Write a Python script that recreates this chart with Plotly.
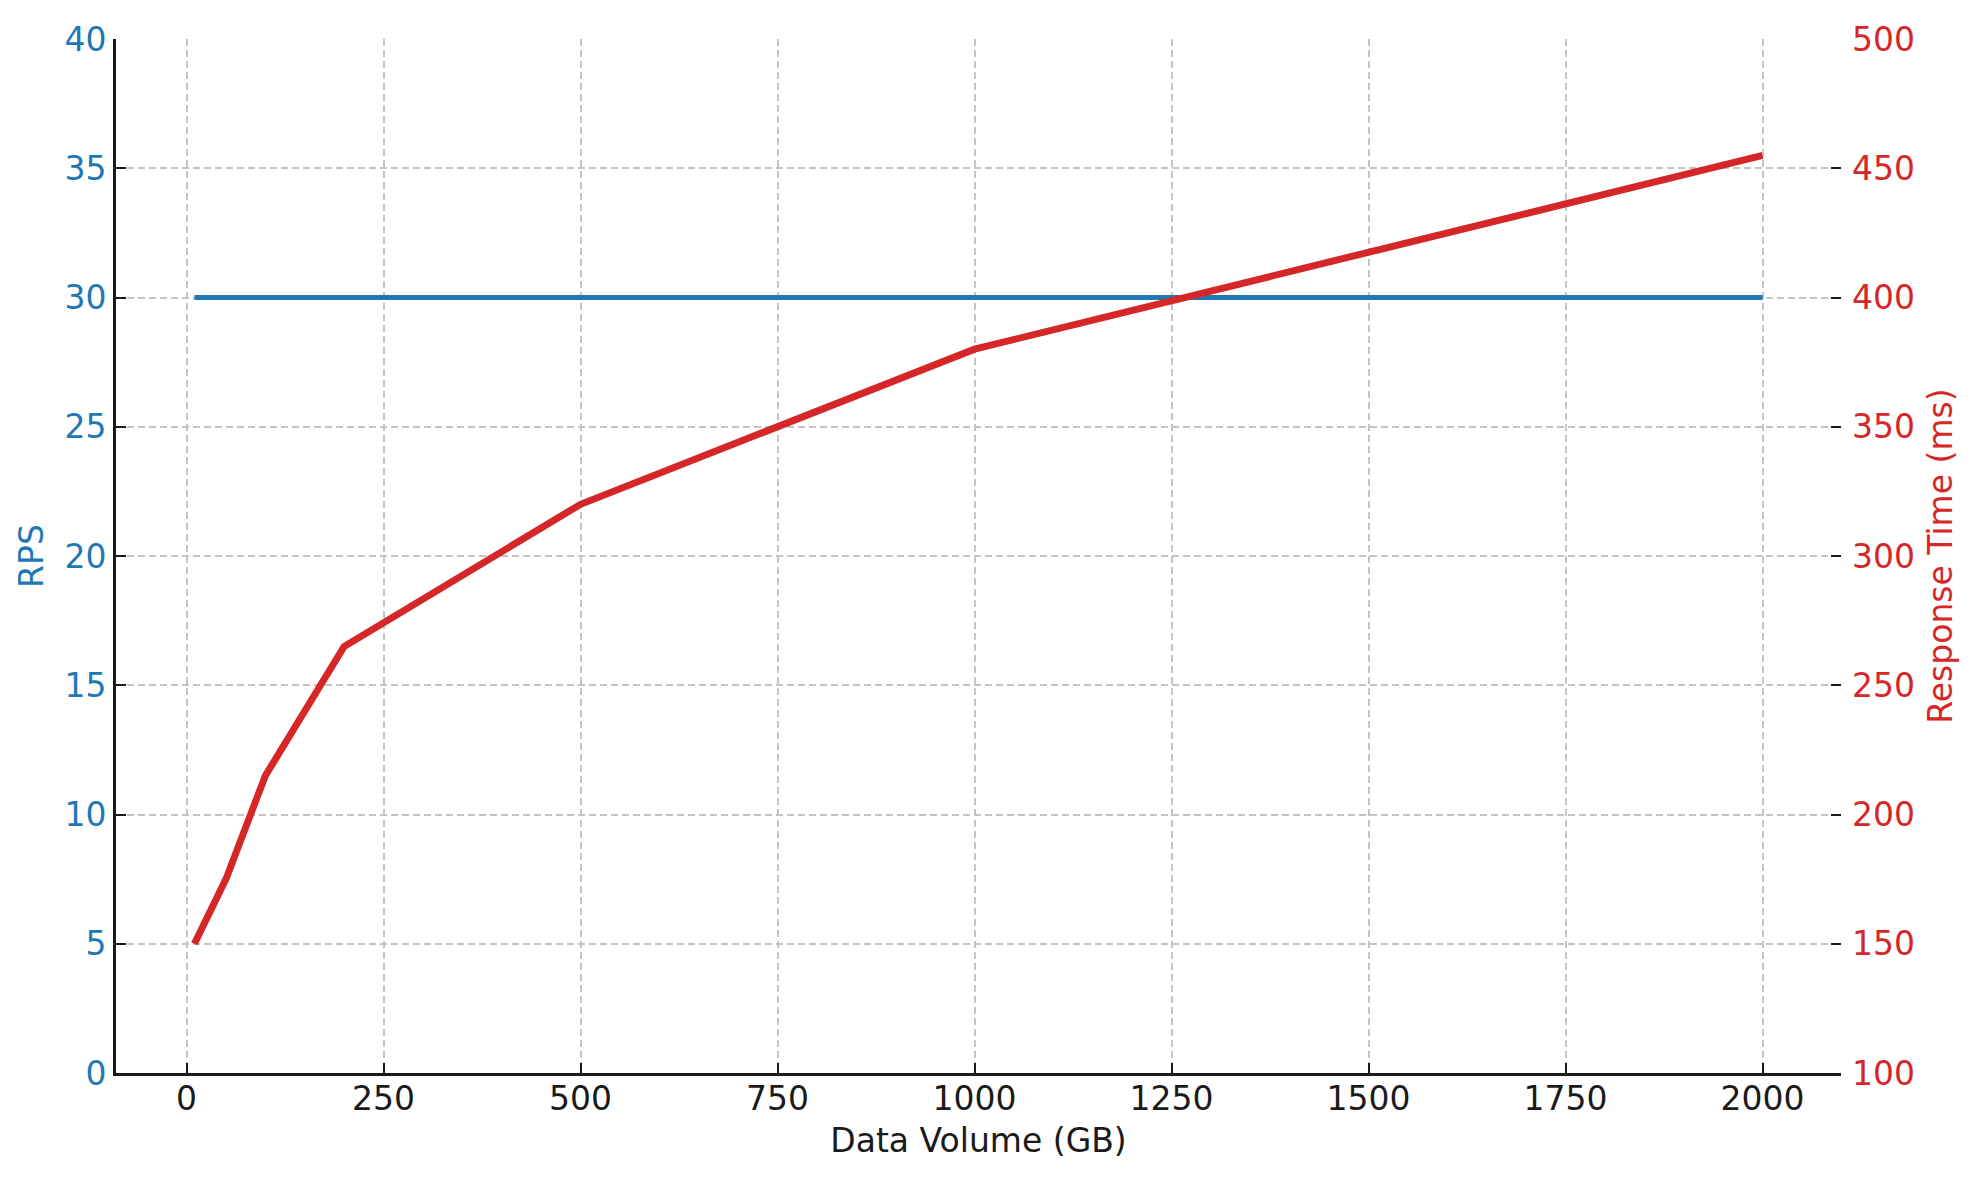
import plotly.graph_objects as go

data_volume = [10, 50, 100, 200, 500, 1000, 2000]
rps = [30, 30, 30, 30, 30, 30, 30]
response_ms = [150, 175, 215, 265, 320, 380, 455]

x_ticks = [0, 250, 500, 750, 1000, 1250, 1500, 1750, 2000]
rps_ticks = [0, 5, 10, 15, 20, 25, 30, 35, 40]
rt_ticks = [100, 150, 200, 250, 300, 350, 400, 450, 500]

BLUE = "#1f77b4"
RED = "#d62728"
FONT = "DejaVu Sans"
FS = 33

fig = go.Figure()
fig.add_trace(go.Scatter(x=data_volume, y=rps, mode="lines", name="RPS",
                         line=dict(color=BLUE, width=5), yaxis="y"))
fig.add_trace(go.Scatter(x=data_volume, y=response_ms, mode="lines", name="Response Time (ms)",
                         line=dict(color=RED, width=7), yaxis="y2"))

grid = dict(showgrid=True, gridcolor="#c4c4c4", gridwidth=1.5, griddash="7px,4px")

fig.update_layout(
    width=1964, height=1164,
    margin=dict(l=108, r=131, t=25, b=99),
    paper_bgcolor="white", plot_bgcolor="white",
    showlegend=False,
    font=dict(family=FONT, size=FS, color="#1a1a1a"),
    xaxis=dict(range=[-89.5, 2099.5], tickvals=x_ticks, ticktext=[str(v) for v in x_ticks],
               ticks="inside", ticklen=10, tickwidth=2, tickcolor="#1a1a1a",
               showline=True, linecolor="#1a1a1a", linewidth=3, zeroline=False,
               ticklabelstandoff=-6,
               tickfont=dict(family=FONT, size=FS, color="#1a1a1a"),
               title=dict(text="Data Volume (GB)", font=dict(family=FONT, size=FS, color="#1a1a1a"), standoff=13),
               **grid),
    yaxis=dict(range=[0, 40], tickvals=rps_ticks, ticktext=[str(v) for v in rps_ticks],
               ticks="inside", ticklen=10, tickwidth=2, tickcolor="#1a1a1a",
               showline=True, linecolor="#1a1a1a", linewidth=3, zeroline=False,
               tickfont=dict(family=FONT, size=FS, color=BLUE),
               title=dict(text="RPS", font=dict(family=FONT, size=FS, color=BLUE), standoff=11),
               **grid),
    yaxis2=dict(range=[100, 500], tickvals=rt_ticks, ticktext=[str(v) for v in rt_ticks],
                overlaying="y", side="right",
                ticks="inside", ticklen=10, tickwidth=2, tickcolor="#1a1a1a",
                showline=False, zeroline=False, showgrid=False,
                ticklabelstandoff=10,
                tickfont=dict(family=FONT, size=FS, color=RED),
                title=dict(text="Response Time (ms)", font=dict(family=FONT, size=FS, color=RED), standoff=14)),
)

fig.write_html("out.html")
